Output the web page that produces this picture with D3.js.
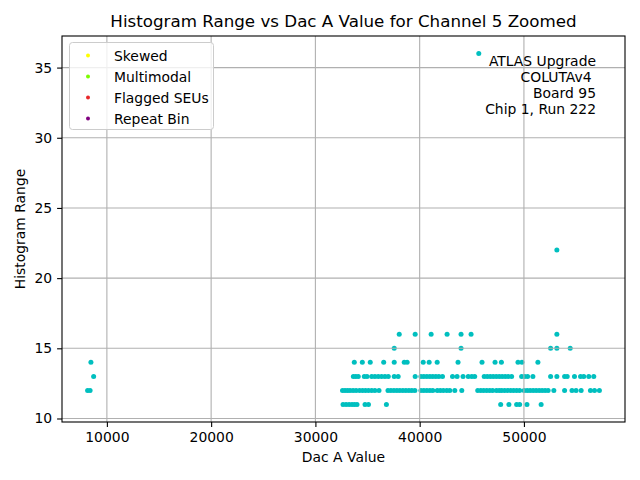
<!DOCTYPE html>
<html>
<head>
<meta charset="utf-8">
<script src="https://cdn.jsdelivr.net/npm/d3@7"></script>
<style>
  body { margin: 0; background: #fff; }
  text { font-family: "DejaVu Sans", sans-serif; fill: #000; }
</style>
</head>
<body>
<div id="mainDiv"></div>
<script>
// Histogram range per row (y value) and the Dac A values that land on it
var row11 = [32650, 32940, 33230, 33510, 33750, 33990, 34760, 35090, 36810,
    47770, 48560, 49300, 49590, 50290, 51650];
var row12 = [8150, 8390, 32600, 32840, 33080, 33320, 33610, 33900, 34230, 34520, 34800,
    35090, 35400, 35710, 36100, 36960, 37240, 37530, 37820, 38100, 38390, 38680, 38970,
    39250, 39540, 40120, 40400, 40690, 40980, 41260, 41690, 41980, 42270, 42600, 42890,
    43370, 44040, 45570, 45860, 46140, 46430, 46720, 47000, 47360, 47630, 47870, 48150,
    48440, 48730, 49010, 49300, 49590, 50020, 50310, 50590, 50880, 51170, 51460, 51740,
    52030, 52320, 52870, 53900, 54610, 55000, 55490, 56380, 56770, 57240];
var row13 = [8730, 33640, 33870, 34110, 34690, 34950, 35400, 35710, 36030, 36350, 36670,
    36990, 37560, 37940, 39570, 40120, 40400, 40690, 40980, 41260, 41550, 41840, 42190,
    43150, 43590, 44160, 44660, 45000, 45280, 46190, 46480, 46770, 47050, 47340, 47630,
    47910, 48200, 48490, 48820, 49780, 50070, 50350, 50860, 52560, 53160, 53900, 54150,
    54850, 55430, 55740, 56220, 56700];
var row14 = [8470, 33730, 34500, 35260, 36550, 37560, 38520, 38800, 40340, 40910, 41680,
    43680, 45980, 47230, 47840, 49430, 49810, 51340];
var row15 = [37560, 43970, 52560, 53160, 54440];
var row16 = [38040, 39570, 41100, 42630, 43970, 44930, 53160];
var row22 = [53160];
var row36 = [45670];

var rowValues = [11, 12, 13, 14, 15, 16, 22, 36];
var rowLists = [row11, row12, row13, row14, row15, row16, row22, row36];

var xTicks = [10000, 20000, 30000, 40000, 50000];
var yTicks = [10, 15, 20, 25, 30, 35];

var legendLabels = ['Skewed', 'Multimodal', 'Flagged SEUs', 'Repeat Bin'];
var legendColors = ['#ffff00', '#7cfc00', '#e8272a', '#800080'];

var infoLines = ['ATLAS Upgrade', 'COLUTAv4\u00a0', 'Board 95', 'Chip 1, Run 222'];

var points = [];
rowLists.forEach(function ( list, i ) {
    list.forEach(function ( v ) { points.push( { x: v, y: rowValues[i] } ); });
});

var _width = 640, _height = 480,
    _left = 62, _right = 625, _top = 36, _bottom = 422;

var svg = d3.select( '#mainDiv' ).append( 'svg' )
    .attr( 'width', _width )
    .attr( 'height', _height );

// matplotlib style 5% margins
var xExt = d3.extent( points, function ( d ) { return d.x; } ),
    yExt = d3.extent( points, function ( d ) { return d.y; } ),
    xPad = ( xExt[1] - xExt[0] ) * 0.05,
    yPad = ( yExt[1] - yExt[0] ) * 0.05;

var x = d3.scaleLinear().domain( [xExt[0] - xPad, xExt[1] + xPad] ).range( [_left, _right] );
var y = d3.scaleLinear().domain( [yExt[0] - yPad, yExt[1] + yPad] ).range( [_bottom, _top] );

svg.append( 'rect' )
    .attr( 'x', _left ).attr( 'y', _top )
    .attr( 'width', _right - _left ).attr( 'height', _bottom - _top )
    .attr( 'fill', '#fff' );

// points
svg.append( 'g' ).selectAll( 'circle' )
    .data( points )
    .enter().append( 'circle' )
    .attr( 'cx', function ( d ) { return x( d.x ); } )
    .attr( 'cy', function ( d ) { return y( d.y ); } )
    .attr( 'r', 2.5 )
    .attr( 'fill', '#00bfbf' );

// grid sits above the points, as in the original
var grid = svg.append( 'g' ).attr( 'stroke', '#b0b0b0' ).attr( 'stroke-width', 1.1 );
grid.selectAll( '.gx' ).data( xTicks ).enter().append( 'line' )
    .attr( 'x1', function ( d ) { return x( d ); } ).attr( 'x2', function ( d ) { return x( d ); } )
    .attr( 'y1', _top ).attr( 'y2', _bottom );
grid.selectAll( '.gy' ).data( yTicks ).enter().append( 'line' )
    .attr( 'y1', function ( d ) { return y( d ); } ).attr( 'y2', function ( d ) { return y( d ); } )
    .attr( 'x1', _left ).attr( 'x2', _right );

// axes
var xAxis = svg.append( 'g' )
    .attr( 'transform', 'translate(0,' + _bottom + ')' )
    .call( d3.axisBottom( x ).tickValues( xTicks ).tickFormat( d3.format( 'd' ) ).tickSize( 4.9 ).tickPadding( 4.9 ) );
var yAxis = svg.append( 'g' )
    .attr( 'transform', 'translate(' + _left + ',0)' )
    .call( d3.axisLeft( y ).tickValues( yTicks ).tickFormat( d3.format( 'd' ) ).tickSize( 4.9 ).tickPadding( 4.9 ) );
[xAxis, yAxis].forEach(function ( a ) {
    a.select( '.domain' ).remove();
    a.selectAll( 'line' ).attr( 'stroke', '#000' ).attr( 'stroke-width', 1.1 );
    a.selectAll( 'text' ).attr( 'font-size', '13.9px' ).attr( 'font-family', 'DejaVu Sans' ).attr( 'fill', '#000' );
});

svg.append( 'rect' )
    .attr( 'x', _left ).attr( 'y', _top )
    .attr( 'width', _right - _left ).attr( 'height', _bottom - _top )
    .attr( 'fill', 'none' ).attr( 'stroke', '#000' ).attr( 'stroke-width', 1.1 );

// titles
svg.append( 'text' )
    .attr( 'x', ( _left + _right ) / 2 ).attr( 'y', 27 )
    .attr( 'text-anchor', 'middle' ).attr( 'font-size', '16.7px' )
    .text( 'Histogram Range vs Dac A Value for Channel 5 Zoomed' );
svg.append( 'text' )
    .attr( 'x', ( _left + _right ) / 2 ).attr( 'y', 462 )
    .attr( 'text-anchor', 'middle' ).attr( 'font-size', '13.9px' )
    .text( 'Dac A Value' );
svg.append( 'text' )
    .attr( 'transform', 'translate(25,' + ( ( _top + _bottom ) / 2 ) + ') rotate(-90)' )
    .attr( 'text-anchor', 'middle' ).attr( 'font-size', '13.9px' )
    .text( 'Histogram Range' );

// info text, right aligned
svg.append( 'g' ).selectAll( 'text' )
    .data( infoLines )
    .enter().append( 'text' )
    .attr( 'x', 596 )
    .attr( 'y', function ( d, i ) { return 66 + i * 16; } )
    .attr( 'text-anchor', 'end' )
    .attr( 'font-size', '13.9px' )
    .text( function ( d ) { return d; } );

// legend
var legend = svg.append( 'g' );
legend.append( 'rect' )
    .attr( 'x', 69.5 ).attr( 'y', 42.5 )
    .attr( 'width', 144 ).attr( 'height', 87 )
    .attr( 'rx', 3 )
    .attr( 'fill', '#fff' ).attr( 'fill-opacity', 0.8 )
    .attr( 'stroke', '#cccccc' ).attr( 'stroke-width', 1 );
var items = legend.selectAll( '.item' )
    .data( legendLabels )
    .enter().append( 'g' )
    .attr( 'transform', function ( d, i ) { return 'translate(88,' + ( 55.5 + i * 21 ) + ')'; } );
items.append( 'circle' )
    .attr( 'r', 2 )
    .attr( 'fill', function ( d, i ) { return legendColors[i]; } );
items.append( 'text' )
    .attr( 'x', 26 ).attr( 'y', 5 )
    .attr( 'font-size', '13.9px' )
    .text( function ( d ) { return d; } );
</script>
</body>
</html>
